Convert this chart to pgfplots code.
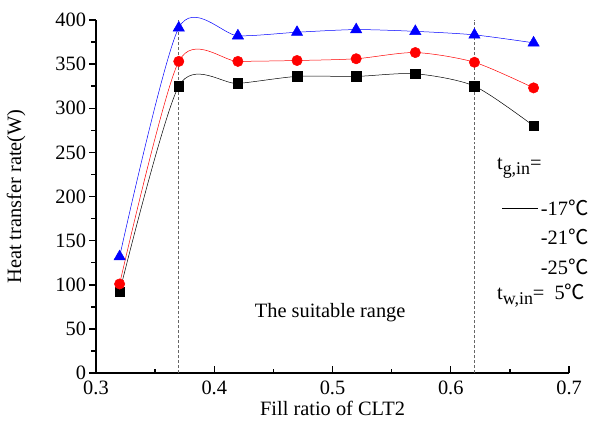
\documentclass[border=0pt]{standalone}
\usepackage{fontspec}
\setmainfont{Liberation Serif}
\newfontfamily\cjk{Noto Sans CJK SC}
\usepackage{pgfplots}
\pgfplotsset{compat=1.18}

\newcommand{\degc}{{\cjk ℃}}
\newcommand{\sub}[1]{\raisebox{-5bp}{\fontsize{18}{20}\selectfont #1}}

\begin{document}
\fontsize{20.5}{24}\selectfont
\begin{tikzpicture}
\begin{axis}[
    scale only axis, width=474bp, height=354bp,
    xmin=0.3, xmax=0.7, ymin=0, ymax=400,
    axis x line*=bottom, axis y line*=left,
    axis line style={line width=1.4bp},
    xtick={0.3,0.4,...,0.7}, ytick={0,50,...,400},
    major tick length=0pt,
    /pgf/number format/assume math mode=true,
    ticklabel style={font=\fontsize{20.5}{24}\selectfont},
    label style={font=\fontsize{20.5}{24}\selectfont},
    xticklabel style={/pgf/number format/fixed, /pgf/number format/precision=1, yshift=-1bp},
    yticklabel style={xshift=-3bp},
    xlabel={Fill ratio of CLT2},
    ylabel={Heat transfer rate(W)},
    every axis x label/.style={at={(rel axis cs:0.5,0)}, yshift=-42bp, anchor=base},
    every axis y label/.style={at={(rel axis cs:0,0.5)}, xshift=-80bp,
        rotate=90, anchor=center},
    clip=false,
]
\coordinate (o) at (rel axis cs:0,0);
% tick marks: y outwards, x inwards
\pgfplotsinvokeforeach{0,50,100,150,200,250,300,350,400}{
    \draw[line width=1.4bp] (axis cs:0.3,#1) -- (axis cs:0.2937,#1);}
\pgfplotsinvokeforeach{25,75,125,175,225,275,325,375}{
    \draw[line width=1.4bp] (axis cs:0.3,#1) -- (axis cs:0.2962,#1);}
\pgfplotsinvokeforeach{0.3,0.4,0.5,0.6,0.7}{
    \draw[line width=1.4bp] (axis cs:#1,0) -- (axis cs:#1,8.5);}
\pgfplotsinvokeforeach{0.35,0.45,0.55,0.65}{
    \draw[line width=1.4bp] (axis cs:#1,0) -- (axis cs:#1,5);}

% vertical markers of the suitable range
\draw[densely dashed, gray!80!black, line width=0.6bp] (axis cs:0.37,0) -- (axis cs:0.37,400);
\draw[densely dashed, gray!80!black, line width=0.6bp] (axis cs:0.62,0) -- (axis cs:0.62,400);

% -17 C
\addplot[black, line width=0.5bp, smooth, tension=0.45, mark=square*, mark size=4.8bp,
    mark options={solid}] coordinates {
    (0.32,92) (0.37,325) (0.42,328) (0.47,336) (0.52,336) (0.57,339) (0.62,325) (0.67,280)};
% -21 C
\addplot[red, line width=0.5bp, smooth, tension=0.45, mark=*, mark size=5.2bp,
    mark options={solid}] coordinates {
    (0.32,101) (0.37,353) (0.42,353) (0.47,354) (0.52,356) (0.57,363) (0.62,352) (0.67,323)};
% -25 C
\addplot[blue, line width=0.5bp, smooth, tension=0.45, mark=triangle*, mark size=6.5bp,
    mark options={solid}] coordinates {
    (0.32,132) (0.37,391) (0.42,382) (0.47,386) (0.52,389) (0.57,387) (0.62,383) (0.67,374)};

\node[anchor=center] at (axis cs:0.498,68) {The suitable range};
\node[anchor=west, inner sep=0] at (axis cs:0.639,232) {t\sub{g,in}=};
\draw[black, line width=0.6bp] (axis cs:0.6435,187) -- (axis cs:0.674,187);
\node[anchor=west, inner sep=0] at (axis cs:0.676,187) {-17\degc};
\node[anchor=west, inner sep=0] at (axis cs:0.676,154) {-21\degc};
\node[anchor=west, inner sep=0] at (axis cs:0.676,120) {-25\degc};
\node[anchor=west, inner sep=0] at (axis cs:0.639,88) {t\sub{w,in}=\ \ 5\degc};
\end{axis}
\path (o) ++(-95bp,-50.5bp) rectangle ++(598bp,423bp);
\end{tikzpicture}
\end{document}
